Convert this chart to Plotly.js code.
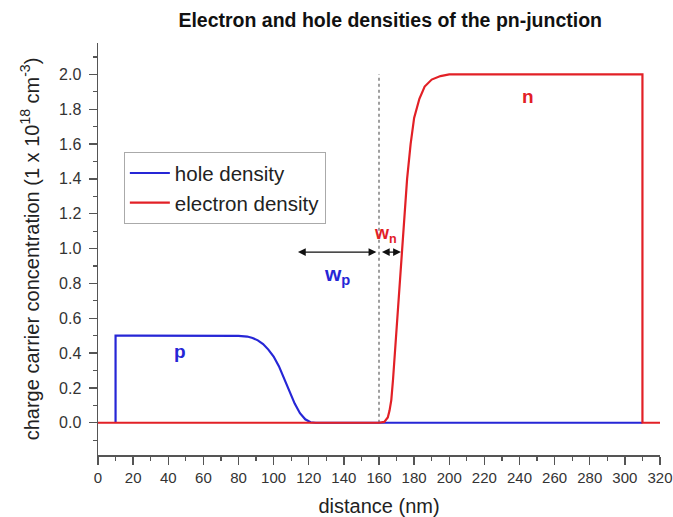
<!DOCTYPE html>
<html>
<head>
<meta charset="utf-8">
<script src="https://cdn.plot.ly/plotly-3.0.1.min.js"></script>
<style>html,body{margin:0;padding:0;background:#fff;}#chart{width:673px;height:517px;}</style>
</head>
<body>
<div id="chart"></div>
<script>
// hole density (p side)
const holeX = [10, 10, 20, 40, 60, 75, 80, 85, 88, 91, 94, 97, 100, 103, 106, 109, 112, 115, 118, 121, 124, 160, 200, 250, 310];
const holeY = [0, 0.5, 0.5, 0.5, 0.5, 0.5, 0.499, 0.495, 0.487, 0.473, 0.452, 0.42, 0.38, 0.325, 0.255, 0.18, 0.11, 0.055, 0.02, 0.003, 0, 0, 0, 0, 0];
// electron density (n side)
const elecX = [0, 40, 80, 120, 160, 163, 165, 166, 167, 168, 170, 172, 174, 176, 178, 180, 183, 186, 190, 195, 200, 250, 310, 310, 320];
const elecY = [0, 0, 0, 0, 0, 0.005, 0.03, 0.07, 0.13, 0.25, 0.55, 0.85, 1.15, 1.4, 1.6, 1.75, 1.86, 1.93, 1.97, 1.99, 2.0, 2.0, 2.0, 0, 0];
// junction marker
const junctionX = [160, 160];
const junctionY = [0, 2.0];
// depletion widths
const wpRange = [113, 158.5];
const wnRange = [160.8, 172.5];
const arrowLevel = 0.98;
const xTicks = [0, 20, 40, 60, 80, 100, 120, 140, 160, 180, 200, 220, 240, 260, 280, 300, 320];
const yTicks = [0.0, 0.2, 0.4, 0.6, 0.8, 1.0, 1.2, 1.4, 1.6, 1.8, 2.0];

const blue = 'rgb(38,38,214)';
const red = 'rgb(226,32,38)';
const font = 'Liberation Sans, Arial, sans-serif';

const traces = [
  {x: junctionX, y: junctionY, mode: 'lines', line: {color: '#808080', width: 1.5, dash: '3px,3px'}, showlegend: false, hoverinfo: 'skip'},
  {x: holeX, y: holeY, mode: 'lines', name: 'hole density', line: {color: blue, width: 2.2}},
  {x: elecX, y: elecY, mode: 'lines', name: 'electron density', line: {color: red, width: 2.2}}
];

function arrow(x0, x1, y) {
  return {x: x1, y: y, ax: x0, ay: y, xref: 'x', yref: 'y', axref: 'x', ayref: 'y',
    showarrow: true, arrowside: 'end+start', arrowhead: 2, arrowsize: 1.2, arrowwidth: 1.3,
    arrowcolor: '#111', text: '', standoff: 0, startstandoff: 0};
}

const layout = {
  width: 673, height: 517,
  margin: {l: 98, r: 13, t: 43, b: 62},
  paper_bgcolor: '#fff', plot_bgcolor: '#fff',
  font: {family: font, color: '#333'},
  title: {text: '<b>Electron and hole densities of the pn-junction</b>', font: {family: font, size: 19.5, color: '#111'},
    x: 0.52, xref: 'paper', xanchor: 'center', y: 1 - 20/517, yref: 'container', yanchor: 'middle'},
  xaxis: {range: [0, 320], tickvals: xTicks, ticktext: xTicks.map(String), showgrid: false, zeroline: false,
    showline: true, linecolor: '#555', linewidth: 1.5, ticks: 'outside', ticklen: 8, tickwidth: 1.3, tickcolor: '#555',
    minor: {dtick: 10, ticks: 'outside', ticklen: 4, tickwidth: 1.2, tickcolor: '#555', showgrid: false},
    tickfont: {size: 15, color: '#333'}, ticklabelstandoff: 0,
    title: {text: 'distance (nm)', font: {size: 20, color: '#222'}, standoff: 14}},
  yaxis: {range: [-0.185, 2.18], tickvals: yTicks, ticktext: yTicks.map(v => v.toFixed(1)), showgrid: false, zeroline: false,
    showline: true, linecolor: '#555', linewidth: 1.5, ticks: 'outside', ticklen: 8, tickwidth: 1.3, tickcolor: '#555',
    minor: {dtick: 0.1, tick0: 0, ticks: 'outside', ticklen: 4, tickwidth: 1.2, tickcolor: '#555', showgrid: false},
    tickfont: {size: 16, color: '#333'}, ticklabelstandoff: 4,
    title: {text: 'charge carrier concentration (1 x 10<sup>18</sup> cm<sup>-3</sup>)', font: {size: 20, color: '#222'}, standoff: 14}},
  legend: {x: 0.046, y: 0.735, xanchor: 'left', yanchor: 'top', bgcolor: '#fff', bordercolor: '#aaa', borderwidth: 1,
    font: {size: 20.5, color: '#222'}, tracegroupgap: 0, itemwidth: 40},
  annotations: [
    arrow(wpRange[0], wpRange[1], arrowLevel),
    arrow(wnRange[0], wnRange[1], arrowLevel),
    {x: 135.8, y: 0.85, xref: 'x', yref: 'y', showarrow: false, text: '<b>w<sub>p</sub></b>', font: {size: 21, color: blue}},
    {x: 163.5, y: 1.08, xref: 'x', yref: 'y', showarrow: false, text: '<b>w<sub>n</sub></b>', font: {size: 18, color: red}},
    {x: 46.7, y: 0.41, xref: 'x', yref: 'y', showarrow: false, text: '<b>p</b>', font: {size: 19, color: blue}},
    {x: 244.9, y: 1.874, xref: 'x', yref: 'y', showarrow: false, text: '<b>n</b>', font: {size: 19, color: red}}
  ]
};

Plotly.newPlot('chart', traces, layout, {displayModeBar: false, staticPlot: true});
</script>
</body>
</html>
